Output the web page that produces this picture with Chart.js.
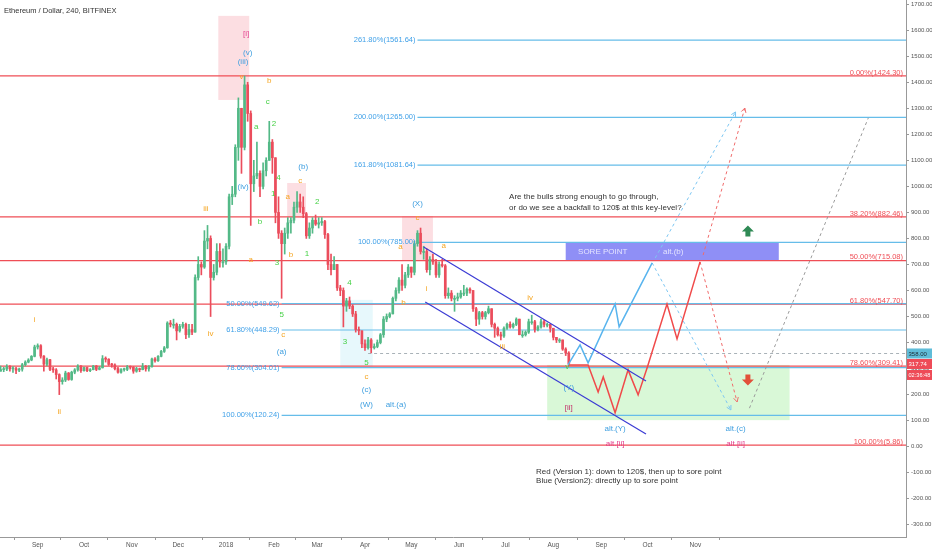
<!DOCTYPE html>
<html lang="en">
<head>
<meta charset="UTF-8">
<title>Ethereum / Dollar, 240, BITFINEX</title>
<script src="https://cdn.jsdelivr.net/npm/chart.js"></script>
<style>
    body { margin: 0; background: #fff; }
    #wrap { width: 932px; height: 550px; position: relative; }
</style>
</head>
<body>
<div id="wrap"><canvas id="ethChart" width="932" height="550"></canvas></div>
<script>
// x values are days counted from 1 Sep 2017, one candle every 2 days
const firstDay = -24;
const stepDays = 2;
const firstOpen = 290;

const closes = [
    296, 298, 308, 299, 300, 294, 298, 315, 325, 333,
    347, 383, 388, 348, 317, 334, 297, 295, 277, 250,
    256, 283, 258, 286, 295, 310, 292, 304, 292, 296,
    310, 297, 303, 338, 336, 316, 314, 300, 286, 296,
    297, 307, 305, 290, 300, 296, 309, 299, 307, 337,
    330, 347, 366, 380, 475, 470, 470, 445, 462, 470,
    430, 450, 440, 650, 700, 690, 790, 800, 650, 670,
    750, 710, 710, 770, 960, 970, 1150, 1300, 1150, 1390,
    1280, 1010, 1040, 1050, 1000, 1060, 1100, 1170, 1110, 900,
    820, 780, 820, 860, 870, 920, 940, 920, 895, 810,
    840, 870, 855, 860, 865, 815, 700, 680, 700, 610,
    600, 540, 560, 540, 510, 450, 445, 395, 380, 410,
    380, 385, 400, 430, 490, 500, 510, 570, 600, 640,
    620, 660, 690, 670, 780, 820, 750, 750, 680, 720,
    710, 660, 700, 695, 580, 590, 570, 570, 575, 590,
    590, 605, 600, 530, 490, 515, 500, 515, 530, 470,
    455, 430, 425, 455, 470, 460, 470, 490, 430, 430,
    440, 480, 480, 450, 460, 480, 470, 470, 455, 420,
    410, 410, 375, 360, 318
];
const highs = [
    310, 305, 315, 312, 308, 305, 302, 320, 330, 338,
    350, 390, 395, 392, 350, 340, 336, 305, 300, 280,
    265, 290, 285, 290, 300, 315, 312, 306, 306, 300,
    312, 312, 308, 350, 345, 338, 320, 318, 305, 300,
    302, 312, 310, 308, 305, 302, 320, 312, 312, 340,
    342, 350, 370, 385, 480, 485, 490, 475, 470, 478,
    475, 470, 470, 660, 730, 710, 830, 850, 810, 700,
    780, 780, 760, 780, 970, 1000, 1160, 1340, 1300, 1424,
    1400, 1290, 1100, 1170, 1060, 1090, 1110, 1250, 1180, 1110,
    960, 830, 840, 880, 880, 940, 980, 970, 960, 900,
    860, 880, 890, 880, 880, 870, 820, 740, 730, 700,
    620, 610, 570, 575, 545, 520, 460, 445, 410, 420,
    415, 395, 410, 435, 500, 510, 515, 575, 610, 650,
    700, 670, 700, 690, 790, 830, 840, 770, 760, 730,
    740, 720, 710, 720, 700, 610, 600, 580, 590, 600,
    620, 610, 610, 600, 535, 520, 520, 520, 540, 530,
    475, 460, 440, 460, 475, 480, 475, 495, 490, 445,
    445, 490, 505, 485, 465, 490, 485, 475, 470, 455,
    420, 415, 410, 380, 365
];
const lows = [
    290, 288, 292, 290, 285, 280, 288, 290, 310, 322,
    330, 345, 375, 340, 290, 310, 292, 285, 260, 200,
    240, 250, 255, 255, 280, 290, 285, 290, 288, 288,
    295, 292, 295, 302, 325, 312, 305, 295, 282, 282,
    290, 292, 298, 282, 286, 288, 295, 290, 290, 305,
    325, 328, 345, 362, 378, 460, 455, 410, 440, 455,
    415, 420, 430, 440, 640, 660, 685, 760, 500, 640,
    660, 690, 690, 700, 760, 930, 960, 1100, 1050, 1140,
    1250, 850, 980, 1030, 960, 990, 1040, 1100, 1050, 860,
    800, 570, 740, 800, 820, 860, 900, 900, 880, 800,
    800, 820, 850, 840, 850, 800, 680, 660, 680, 600,
    580, 460, 520, 530, 500, 440, 430, 380, 370, 375,
    360, 375, 380, 395, 420, 480, 495, 510, 560, 590,
    600, 610, 650, 650, 660, 770, 740, 720, 670, 660,
    700, 650, 650, 690, 570, 570, 560, 520, 560, 570,
    580, 580, 590, 520, 465, 470, 490, 490, 510, 460,
    420, 425, 410, 420, 450, 455, 455, 465, 430, 420,
    425, 435, 470, 440, 445, 455, 460, 460, 440, 410,
    400, 400, 370, 350, 310
];

const monthDays = [0, 30, 61, 91, 122, 153, 181, 212, 242, 273, 303, 334, 365, 395, 426];
const monthLabels = ['Sep', 'Oct', 'Nov', 'Dec', '2018', 'Feb', 'Mar', 'Apr', 'May', 'Jun', 'Jul', 'Aug', 'Sep', 'Oct', 'Nov'];
const priceTicks = [-300, -200, -100, 0, 100, 200, 300, 400, 500, 600, 700, 800, 900, 1000, 1100, 1200, 1300, 1400, 1500, 1600, 1700];

// fibonacci levels
const redFibLevels = [1424.30, 882.46, 715.08, 547.70, 309.41, 5.86];
const redFibLabels = ['0.00%(1424.30)', '38.20%(882.46)', '50.00%(715.08)', '61.80%(547.70)', '78.60%(309.41)', '100.00%(5.86)'];
const upperFibLevels = [1561.64, 1265.00, 1081.64, 785.00];
const upperFibLabels = ['261.80%(1561.64)', '200.00%(1265.00)', '161.80%(1081.64)', '100.00%(785.00)'];
const lowerFibLevels = [549.62, 448.29, 304.01, 120.24];
const lowerFibLabels = ['50.00%(549.62)', '61.80%(448.29)', '78.60%(304.01)', '100.00%(120.24)'];

// drawn paths
const channelTopDays = [250, 394], channelTopPrices = [767, 252];
const channelBottomDays = [251, 394], channelBottomPrices = [556, 49];
const blueRouteDays = [343.5, 351.3, 356.5, 374, 376.6, 398];
const blueRoutePrices = [314, 391, 322, 548, 460, 706];
const redRouteDays = [343.5, 356.5, 363, 366.3, 374, 382.4, 388.9, 394.7, 407.6, 414.1, 429];
const redRoutePrices = [314, 314, 210, 268, 130, 295, 199, 302, 548, 414, 710];
const blueDownDays = [398, 449], blueDownPrices = [706, 141];
const blueUpDays = [400, 452], blueUpPrices = [725, 1286];
const redDownDays = [429, 453], redDownPrices = [710, 172];
const redUpDays = [431, 458], redUpPrices = [736, 1301];
const grayUpDays = [461, 538], grayUpPrices = [148, 1263];

const ORANGE = '#f5a623', GREEN = '#45d145', BLUE = '#3f9fe0', PINK = '#e33f8c';
const waveLabels = [
    ['i', -2, 487, ORANGE], ['ii', 14, 133, ORANGE], ['iii', 109, 913, ORANGE], ['iv', 112, 433, ORANGE],
    ['v', 132, 1420, ORANGE], ['(iii)', 133, 1478, BLUE], ['(v)', 136, 1512, BLUE], ['[i]', 135, 1585, PINK],
    ['b', 150, 1405, ORANGE], ['c', 149, 1324, GREEN], ['a', 141.5, 1228, GREEN], ['2', 153, 1240, GREEN],
    ['(b)', 172, 1075, BLUE], ['(iv)', 133, 998, BLUE], ['4', 156, 1032, GREEN], ['c', 170, 1021, ORANGE],
    ['1', 152.5, 971, GREEN], ['a', 162, 959, ORANGE], ['2', 181, 940, GREEN], ['b', 144, 863, GREEN],
    ['a', 138, 717, ORANGE], ['b', 164, 736, ORANGE], ['1', 174.5, 740, GREEN], ['3', 155, 706, GREEN],
    ['4', 202, 629, GREEN], ['5', 158, 506, GREEN], ['c', 159, 429, ORANGE], ['(a)', 158, 364, BLUE],
    ['3', 199, 402, GREEN], ['5', 213, 321, GREEN], ['c', 213, 268, ORANGE], ['(c)', 213, 218, BLUE],
    ['(W)', 213, 160, BLUE], ['alt.(a)', 232, 160, BLUE], ['(X)', 246, 932, BLUE], ['c', 246, 879, ORANGE],
    ['a', 235, 767, ORANGE], ['a', 263, 771, ORANGE], ['i', 252, 606, ORANGE], ['b', 237, 552, ORANGE],
    ['iv', 319, 571, ORANGE], ['iii', 301, 383, ORANGE], ['v', 343, 306, GREEN], ['(Y)', 344, 225, BLUE],
    ['[ii]', 344, 149, '#c2306a'], ['alt.(Y)', 374, 68, BLUE], ['alt.[ii]', 374, 10, PINK],
    ['alt.(c)', 452, 68, BLUE], ['alt.[ii]', 452, 10, PINK]
];
const notes = [
    ['Are the bulls strong enough to go through,', 305.3, 959],
    ['or do we see a backfall to 120$ at this key-level?', 305.3, 917],
    ['Red (Version 1): down to 120$, then up to sore point', 322.8, -97],
    ['Blue (Version2): directly up to sore point', 322.8, -131]
];
// shaded zones: from day, to day, top price, bottom price
const zoneBoxes = [
    [117, 137, 1655, 1332, 'rgba(242, 90, 110, 0.2)'],
    [161.6, 173.8, 1013, 878, 'rgba(242, 90, 110, 0.2)'],
    [236, 256, 886, 717, 'rgba(242, 90, 110, 0.2)'],
    [196, 217, 564, 302, 'rgba(120, 215, 240, 0.18)'],
    [330, 487, 314, 102, 'rgba(120, 230, 110, 0.28)'],
    [342, 480, 785, 715.08, 'rgba(128, 128, 245, 0.88)']
];

const candleDays = closes.map((c, i) => firstDay + i * stepDays);
const opens = closes.map((c, i) => i === 0 ? firstOpen : closes[i - 1]);
const candleColors = closes.map((c, i) => c >= opens[i] ? '#53b987' : '#eb4d5c');

function pathSet(days, prices, color, dash, width, arrow) {
    return {
        type: 'line',
        data: days.map((d, i) => ({ x: d, y: prices[i] })),
        borderColor: color,
        borderWidth: width,
        borderDash: dash,
        pointRadius: 0,
        fill: false,
        tension: 0,
        order: 1,
        arrow: arrow
    };
}

const drawings = {
    id: 'drawings',
    beforeDatasetsDraw(chart) {
        const { ctx, chartArea: a, scales: { x, y } } = chart;
        ctx.save();
        ctx.beginPath();
        ctx.rect(a.left, a.top, a.width, a.height);
        ctx.clip();
        zoneBoxes.forEach(([d0, d1, p0, p1, col]) => {
            const x0 = x.getPixelForValue(d0), x1 = x.getPixelForValue(d1);
            const y0 = y.getPixelForValue(p0), y1 = y.getPixelForValue(p1);
            ctx.fillStyle = col;
            ctx.fillRect(x0, y0, x1 - x0, y1 - y0);
        });
        ctx.font = '8px "Liberation Sans", Arial, sans-serif';
        ctx.textBaseline = 'middle';
        ctx.fillStyle = '#e4e4ff';
        const sy = y.getPixelForValue(750);
        ctx.fillText('SORE POINT', x.getPixelForValue(350), sy);
        ctx.fillText('alt.(b)', x.getPixelForValue(405), sy);

        // current price dashed line
        ctx.strokeStyle = '#a9b2b8';
        ctx.lineWidth = 1;
        ctx.setLineDash([3, 3]);
        const py = Math.round(y.getPixelForValue(358)) + 0.5;
        ctx.beginPath();
        ctx.moveTo(x.getPixelForValue(214), py);
        ctx.lineTo(a.right, py);
        ctx.stroke();
        ctx.setLineDash([]);

        // fib lines
        ctx.lineWidth = 1.2;
        ctx.strokeStyle = '#ef4e56';
        redFibLevels.forEach(v => {
            const ly = y.getPixelForValue(v);
            ctx.beginPath(); ctx.moveTo(a.left, ly); ctx.lineTo(a.right, ly); ctx.stroke();
        });
        ctx.strokeStyle = '#66bde9';
        const upStart = x.getPixelForValue(246), lowStart = x.getPixelForValue(158);
        upperFibLevels.forEach(v => {
            const ly = y.getPixelForValue(v);
            ctx.beginPath(); ctx.moveTo(upStart, ly); ctx.lineTo(a.right, ly); ctx.stroke();
        });
        lowerFibLevels.forEach(v => {
            const ly = y.getPixelForValue(v);
            ctx.beginPath(); ctx.moveTo(lowStart, ly); ctx.lineTo(a.right, ly); ctx.stroke();
        });
        ctx.restore();
    },
    afterDatasetsDraw(chart) {
        const { ctx, chartArea: a, scales: { x, y } } = chart;
        ctx.save();
        ctx.font = '7.5px "Liberation Sans", Arial, sans-serif';
        // fib labels
        ctx.textAlign = 'right';
        ctx.textBaseline = 'bottom';
        ctx.fillStyle = '#ef4e56';
        redFibLevels.forEach((v, i) => ctx.fillText(redFibLabels[i], a.right - 3, y.getPixelForValue(v) + 0.5));
        ctx.textBaseline = 'middle';
        ctx.fillStyle = '#3fa0e8';
        const upStart = x.getPixelForValue(246), lowStart = x.getPixelForValue(158);
        upperFibLevels.forEach((v, i) => ctx.fillText(upperFibLabels[i], upStart - 2, y.getPixelForValue(v)));
        lowerFibLevels.forEach((v, i) => ctx.fillText(lowerFibLabels[i], lowStart - 2, y.getPixelForValue(v)));

        // wave labels
        ctx.font = '8px "Liberation Sans", Arial, sans-serif';
        ctx.textAlign = 'center';
        waveLabels.forEach(([t, d, p, col]) => {
            ctx.fillStyle = col;
            ctx.fillText(t, x.getPixelForValue(d), y.getPixelForValue(p));
        });

        // notes
        ctx.textAlign = 'left';
        ctx.fillStyle = '#333';
        notes.forEach(([t, d, p]) => ctx.fillText(t, x.getPixelForValue(d), y.getPixelForValue(p)));

        // arrowheads on dashed paths
        chart.data.datasets.forEach((ds, i) => {
            if (!ds.arrow) return;
            const pts = chart.getDatasetMeta(i).data;
            const p1 = pts[pts.length - 2], p2 = pts[pts.length - 1];
            const ang = Math.atan2(p2.y - p1.y, p2.x - p1.x);
            ctx.strokeStyle = ds.borderColor;
            ctx.lineWidth = 1;
            ctx.beginPath();
            ctx.moveTo(p2.x - 5 * Math.cos(ang - 0.5), p2.y - 5 * Math.sin(ang - 0.5));
            ctx.lineTo(p2.x, p2.y);
            ctx.lineTo(p2.x - 5 * Math.cos(ang + 0.5), p2.y - 5 * Math.sin(ang + 0.5));
            ctx.stroke();
        });

        // big arrows
        const ax = x.getPixelForValue(460);
        const bigArrow = (tipY, dir, col) => {
            ctx.fillStyle = col;
            ctx.beginPath();
            ctx.moveTo(ax, tipY);
            ctx.lineTo(ax + 6, tipY + dir * 6);
            ctx.lineTo(ax + 2.5, tipY + dir * 6);
            ctx.lineTo(ax + 2.5, tipY + dir * 11);
            ctx.lineTo(ax - 2.5, tipY + dir * 11);
            ctx.lineTo(ax - 2.5, tipY + dir * 6);
            ctx.lineTo(ax - 6, tipY + dir * 6);
            ctx.closePath();
            ctx.fill();
        };
        bigArrow(y.getPixelForValue(850), 1, '#2f8a55');
        bigArrow(y.getPixelForValue(235), -1, '#e2503a');

        // title
        ctx.font = '7.5px "Liberation Sans", Arial, sans-serif';
        ctx.fillStyle = '#333';
        ctx.textBaseline = 'middle';
        ctx.fillText('Ethereum / Dollar, 240, BITFINEX', 4, 11);
        ctx.restore();
    },
    afterDraw(chart) {
        const { ctx, chartArea: a, scales: { y } } = chart;
        ctx.save();
        // price axis labels
        ctx.font = '6px "Liberation Sans", Arial, sans-serif';
        ctx.textAlign = 'left';
        ctx.textBaseline = 'middle';
        ctx.fillStyle = '#555';
        priceTicks.forEach(v => ctx.fillText(v.toFixed(2), a.right + 5, y.getPixelForValue(v)));

        // price badges on axis
        const badge = (py, text, bg, fg) => {
            ctx.fillStyle = bg;
            ctx.fillRect(a.right + 1, py - 5, 25, 10);
            ctx.fillStyle = fg;
            ctx.fillText(text, a.right + 2.5, py + 0.5);
        };
        badge(y.getPixelForValue(358), '358.00', '#5fbcd8', '#1d2a33');
        const ly = y.getPixelForValue(317.74);
        badge(ly, '317.74', '#ee4b57', '#fff');
        ctx.font = '5.6px "Liberation Sans", Arial, sans-serif';
        badge(ly + 11, '02:36:48', '#ee4b57', '#fff');
        ctx.restore();
    }
};

const ctx = document.getElementById('ethChart').getContext('2d');
const ethChart = new Chart(ctx, {
    type: 'bar',
    data: {
        datasets: [
            {
                label: 'wick',
                data: candleDays.map((d, i) => ({ x: d, y: [lows[i], highs[i]] })),
                backgroundColor: candleColors,
                barThickness: 1,
                grouped: false,
                order: 3
            },
            {
                label: 'body',
                data: candleDays.map((d, i) => ({ x: d, y: [opens[i], closes[i]] })),
                backgroundColor: candleColors,
                barThickness: 2,
                minBarLength: 1,
                grouped: false,
                order: 2
            },
            pathSet(channelTopDays, channelTopPrices, '#3b3bd4', [], 1.2, false),
            pathSet(channelBottomDays, channelBottomPrices, '#3b3bd4', [], 1.2, false),
            pathSet(blueRouteDays, blueRoutePrices, '#58b4ee', [], 1.5, false),
            pathSet(redRouteDays, redRoutePrices, '#f04a4a', [], 1.5, false),
            pathSet(blueDownDays, blueDownPrices, '#7cc6f2', [3, 3], 1, true),
            pathSet(blueUpDays, blueUpPrices, '#7cc6f2', [3, 3], 1, true),
            pathSet(redDownDays, redDownPrices, '#f06a6a', [3, 3], 1, true),
            pathSet(redUpDays, redUpPrices, '#f06a6a', [3, 3], 1, true),
            pathSet(grayUpDays, grayUpPrices, '#9a9a9a', [3, 3], 1, false)
        ]
    },
    options: {
        responsive: false,
        animation: false,
        devicePixelRatio: 1,
        layout: { padding: 0 },
        plugins: {
            legend: { display: false },
            tooltip: { enabled: false }
        },
        scales: {
            x: {
                type: 'linear',
                min: -24.4,
                max: 562.4,
                offset: false,
                afterFit(s) { s.height = 13; },
                afterBuildTicks(s) { s.ticks = monthDays.map(v => ({ value: v })); },
                ticks: {
                    autoSkip: false,
                    maxRotation: 0,
                    padding: 1,
                    color: '#555',
                    font: { size: 6.5, family: '"Liberation Sans", Arial, sans-serif' },
                    callback: (v, i) => monthLabels[i]
                },
                grid: { display: true, drawOnChartArea: false, tickLength: 3, color: '#999' },
                border: { display: true, color: '#999' }
            },
            y: {
                position: 'right',
                min: -347,
                max: 1716,
                afterFit(s) { s.width = 26; },
                afterBuildTicks(s) { s.ticks = priceTicks.map(v => ({ value: v })); },
                ticks: { display: false },
                grid: { display: true, drawOnChartArea: false, tickLength: 3, color: '#999' },
                border: { display: true, color: '#999' }
            }
        }
    },
    plugins: [drawings]
});
</script>
</body>
</html>
